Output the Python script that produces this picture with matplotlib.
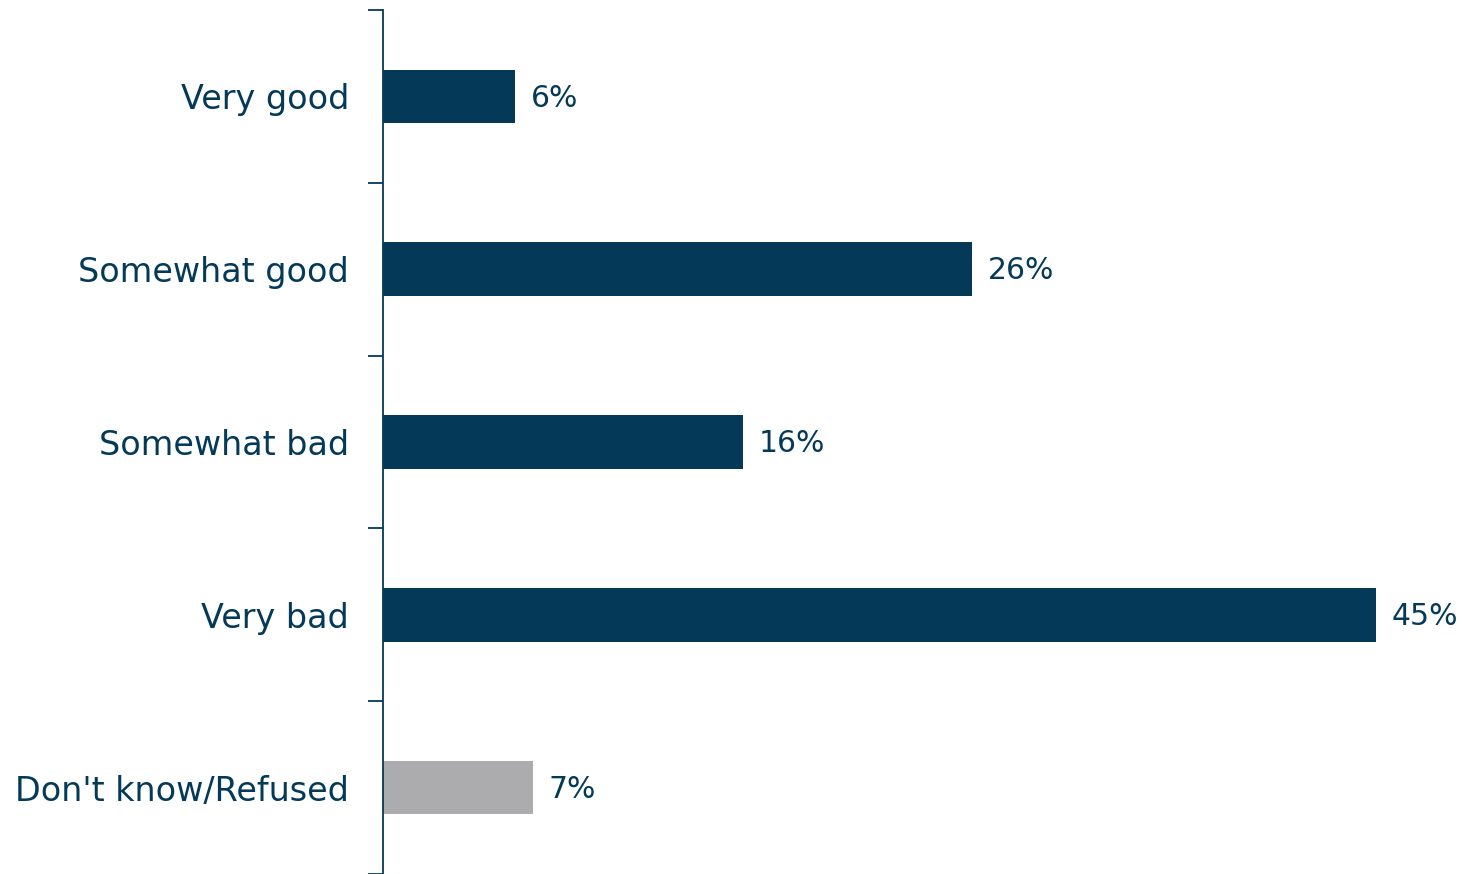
import matplotlib
matplotlib.use('Agg')
import matplotlib.pyplot as plt

categories = ['Very good', 'Somewhat good', 'Somewhat bad', 'Very bad', "Don't know/Refused"]
values = [6.0, 26.7, 16.3, 45.0, 6.8]
labels = ['6%', '26%', '16%', '45%', '7%']
colors = ['#043a58', '#043a58', '#043a58', '#043a58', '#acacae']

navy = '#043a58'
plt.rcParams['font.family'] = ['DejaVu Sans']

fig = plt.figure(figsize=(14.65, 8.74), dpi=100)
ax = fig.add_axes([383 / 1465, 0, 1 - 383 / 1465, 1 - 10 / 874])

ypos = list(range(len(categories)))
ax.barh(ypos, values, height=0.31, color=colors)
for y, v, lab in zip(ypos, values, labels):
    ax.text(v + 0.7, y + 0.01, lab, va='center', ha='left', fontsize=21.5, color=navy)

ax.set_xlim(0, (1465 - 383) / 22.07)
ax.set_ylim(len(categories) - 0.5, -0.5)

# boundaries get the tick marks, centres get the labels
ax.set_yticks([i - 0.5 for i in range(len(categories) + 1)])
ax.set_yticklabels([])
ax.set_yticks(ypos, minor=True)
ax.set_yticklabels(categories, minor=True, fontsize=24, color=navy)
ax.tick_params(axis='y', which='major', length=11, color=navy, width=1.3)
ax.tick_params(axis='y', which='minor', length=0, pad=24.5)

ax.set_xticks([])
for s in ['top', 'right', 'bottom']:
    ax.spines[s].set_visible(False)
ax.spines['left'].set_color(navy)
ax.spines['left'].set_linewidth(1.3)

fig.savefig('out.png', dpi=100)
